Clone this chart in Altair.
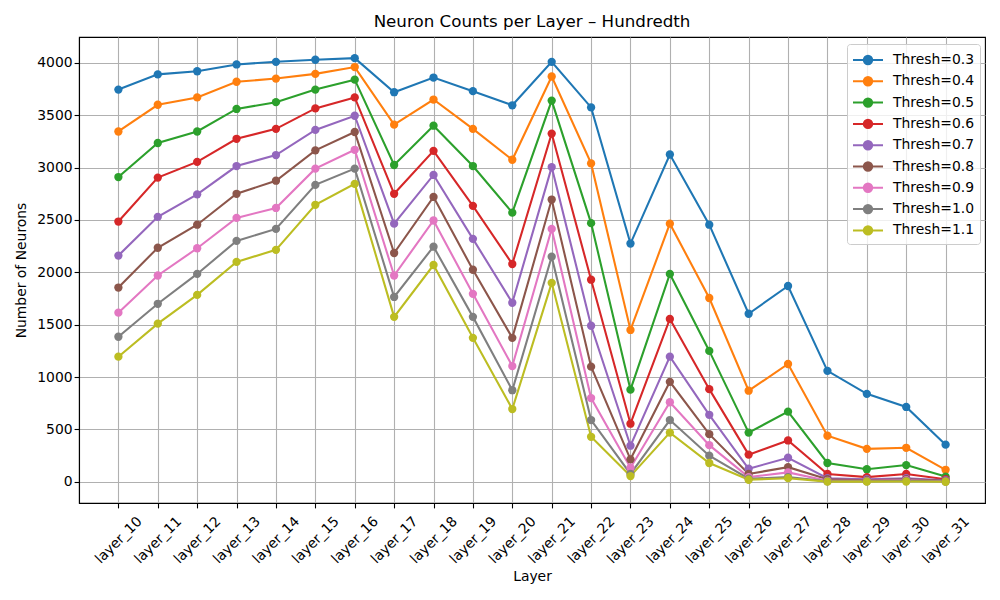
import altair as alt
import pandas as pd

layers = [f"layer_{i}" for i in range(10, 32)]
thresholds = ["Thresh=0.3", "Thresh=0.4", "Thresh=0.5", "Thresh=0.6", "Thresh=0.7",
              "Thresh=0.8", "Thresh=0.9", "Thresh=1.0", "Thresh=1.1"]
colors = ["#1f77b4", "#ff7f0e", "#2ca02c", "#d62728", "#9467bd",
          "#8c564b", "#e377c2", "#7f7f7f", "#bcbd22"]

t03 = [3745, 3890, 3920, 3985, 4010, 4030, 4045, 3720, 3860, 3730, 3595,
       4010, 3575, 2275, 3125, 2455, 1605, 1870, 1060, 840, 715, 355]
t04 = [3345, 3600, 3670, 3820, 3850, 3895, 3960, 3410, 3650, 3370, 3075,
       3870, 3040, 1450, 2465, 1755, 870, 1125, 440, 315, 325, 115]
t05 = [2910, 3235, 3345, 3560, 3625, 3745, 3840, 3025, 3400, 3015, 2570,
       3640, 2470, 880, 1985, 1250, 470, 670, 180, 120, 160, 50]
t06 = [2485, 2905, 3055, 3275, 3370, 3565, 3670, 2750, 3160, 2635, 2080,
       3325, 1930, 555, 1555, 885, 260, 395, 75, 45, 75, 25]
t07 = [2160, 2530, 2745, 3015, 3120, 3360, 3495, 2465, 2930, 2320, 1710,
       3005, 1490, 345, 1195, 640, 125, 230, 35, 25, 35, 15]
t08 = [1855, 2235, 2455, 2750, 2875, 3165, 3340, 2185, 2720, 2025, 1375,
       2695, 1100, 215, 955, 455, 75, 140, 25, 15, 25, 10]
t09 = [1615, 1970, 2230, 2520, 2615, 2990, 3170, 1970, 2495, 1795, 1105,
       2415, 800, 135, 760, 350, 45, 90, 10, 10, 15, 5]
t10 = [1385, 1700, 1985, 2300, 2415, 2835, 2990, 1765, 2245, 1575, 875,
       2150, 590, 75, 590, 250, 30, 45, 5, 5, 10, 3]
t11 = [1195, 1510, 1785, 2100, 2215, 2645, 2845, 1575, 2070, 1375, 695,
       1900, 430, 55, 470, 180, 20, 35, 2, 2, 3, 1]

series = [t03, t04, t05, t06, t07, t08, t09, t10, t11]

rows = []
for name, vals in zip(thresholds, series):
    for layer, v in zip(layers, vals):
        rows.append({"Layer": layer, "Count": v, "Threshold": name})
df = pd.DataFrame(rows)

FONT = "DejaVu Sans"

x_enc = alt.X("Layer:N", sort=layers,
              scale=alt.Scale(type="point", padding=1.05),
              axis=alt.Axis(title="Layer", labelAngle=-45, labelAlign="center",
                            labelBaseline="middle", labelPadding=32,
                            labelOverlap=False, titlePadding=4))
y_enc = alt.Y("Count:Q",
              scale=alt.Scale(domain=[-202, 4247], nice=False, zero=False),
              axis=alt.Axis(title="Number of Neurons", format="d",
                            values=[0, 500, 1000, 1500, 2000, 2500, 3000, 3500, 4000],
                            titlePadding=8))

sym = "M-1.5,0L1.5,0M-0.42,0A0.42,0.42,0,1,1,0.42,0A0.42,0.42,0,1,1,-0.42,0Z"
legend = alt.Legend(title=None, orient="none", legendX=768, legendY=7,
                    symbolType=sym, symbolSize=400, symbolStrokeWidth=2,
                    symbolOffset=5,
                    labelFontSize=13.9, labelFont=FONT, labelOffset=14,
                    fillColor="rgba(255,255,255,0.8)", strokeColor="#cccccc",
                    cornerRadius=3, padding=5, rowPadding=1.3, labelLimit=300)

lines = alt.Chart(df).mark_line(strokeWidth=2.08).encode(
    x=x_enc, y=y_enc,
    stroke=alt.Stroke("Threshold:N", sort=thresholds,
                      scale=alt.Scale(domain=thresholds, range=colors),
                      legend=legend),
    order=alt.Order("Threshold:N"),
)

points = alt.Chart(df).mark_point(filled=True, size=69, opacity=1, shape="circle").encode(
    x=x_enc, y=y_enc,
    fill=alt.Fill("Threshold:N", sort=thresholds,
                  scale=alt.Scale(domain=thresholds, range=colors),
                  legend=legend),
)

chart = alt.layer(lines, points).properties(
    width=906, height=466,
    title=alt.Title("Neuron Counts per Layer – Hundredth", fontSize=16.7,
                    font=FONT, fontWeight="normal", offset=6),
    padding={"left": 71, "top": 29, "right": 5, "bottom": 85},
    autosize=alt.AutoSizeParams(type="none"),
).configure(
    font=FONT, background="white"
).configure_view(
    stroke="black", strokeWidth=1.1
).configure_axis(
    labelFont=FONT, titleFont=FONT, labelFontSize=13.9, titleFontSize=13.9,
    labelColor="black", titleColor="black", titleFontWeight="normal",
    grid=True, gridColor="#b0b0b0", gridWidth=1.1,
    domainColor="black", domainWidth=1.1,
    tickColor="black", tickSize=4.9, tickWidth=1.1
)

chart.save("out.html", embed_options={"renderer": "svg", "actions": False})
